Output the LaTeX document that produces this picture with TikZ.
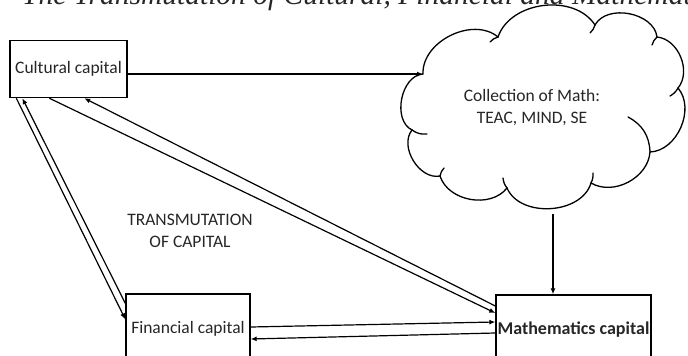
\documentclass[tikz,border=0pt]{standalone}
\usepackage{fontspec}
\setmainfont{Carlito}
\newfontfamily\capfont{Liberation Serif}
\usetikzlibrary{arrows.meta}
\begin{document}
\begin{tikzpicture}[x=1pt,y=-1pt,
  box/.style={draw,line width=1.4pt,inner sep=0pt,text=black!85,font=\fontsize{17.5}{20}\selectfont},
  conn/.style={line width=1.2pt,-{Latex[length=6pt,width=5pt]}},
  cloudline/.style={line width=1.3pt,line cap=round},
  lbl/.style={font=\fontsize{17.5}{22}\selectfont,align=center,text=black!85}]
\useasboundingbox (0,0) rectangle (688,356);
\clip (0,0) rectangle (688,356);
\node[anchor=base west,inner sep=0pt,text=black!85,font=\capfont\itshape\fontsize{29.5}{32}\selectfont] (cap) at (22,5) {The Transmutation of Cultural, Financial and Mathematics Capital};
\node[box,minimum width=117pt,minimum height=57pt] (cult) at (68.5,69) {Cultural capital};
\node[box,minimum width=124pt,minimum height=70pt] (fin) at (188,329) {Financial capital};
\node[box,minimum width=155pt,minimum height=69pt,font=\fontsize{18}{20}\selectfont\bfseries] (math) at (573.5,329.5) {Mathematics capital};
% cloud
\coordinate (c1) at (423,74);
\coordinate (c2) at (498,37);
\coordinate (c3) at (595,25);
\coordinate (c4) at (657,37);
\coordinate (c5) at (678,88);
\coordinate (c6) at (650,152);
\coordinate (c7) at (591,183);
\coordinate (c8) at (507,188);
\coordinate (c9) at (440,176);
\coordinate (c10) at (412,130);
\draw[cloudline] (c1) to[bend left=66] (c2) to[bend left=64] (c3) to[bend left=72] (c4)
  to[bend left=62] (c5) to[bend left=64] (c6) to[bend left=58] (c7) to[bend left=70] (c8)
  to[bend left=62] (c9) to[bend left=70] (c10) to[bend left=75] (c1) -- cycle;
% inner hooks of the cloud
\draw[cloudline] (628,117) to[bend left=30] (c6);
\draw[cloudline] (c10) to[bend right=20] (427,134);
\draw[cloudline] (c9) to[bend left=15] (444,168);
\draw[cloudline] (c8) to[bend left=15] (503,178);
\draw[cloudline] (c7) to[bend right=15] (593,173);
\draw[cloudline] (c5) to[bend left=15] (670,96);
\draw[cloudline] (c4) to[bend right=15] (652,45);
\draw[cloudline] (c3) to[bend left=15] (590,33);
\draw[cloudline] (c2) to[bend right=15] (490,42);
\node[lbl] (cloudtext) at (532,108) {Collection of Math:\\TEAC, MIND, SE};
\node[lbl] (trans) at (190,231) {TRANSMUTATION\\OF CAPITAL};
\coordinate (cloudout) at (553,214);
\draw[conn] (cult.east |- c1) -- (c1);
\draw[conn] (cloudout) -- (cloudout |- math.north);
\draw[conn] ([yshift=2pt]fin.east) -- ([yshift=7.5pt]math.west);
\draw[conn] ([yshift=-3.5pt]math.west) -- ([yshift=-10pt]fin.east);
\draw[conn] ([xshift=7pt]cult.south west) -- ([yshift=-26pt]fin.north west);
\draw[conn] ([yshift=-10pt]fin.north west) -- ([xshift=13pt]cult.south west);
\draw[conn] ([xshift=40pt]cult.south west) -- ([yshift=16.5pt]math.west);
\draw[conn] ([yshift=23.5pt]math.west) -- ([xshift=75pt]cult.south west);
\end{tikzpicture}
\end{document}
